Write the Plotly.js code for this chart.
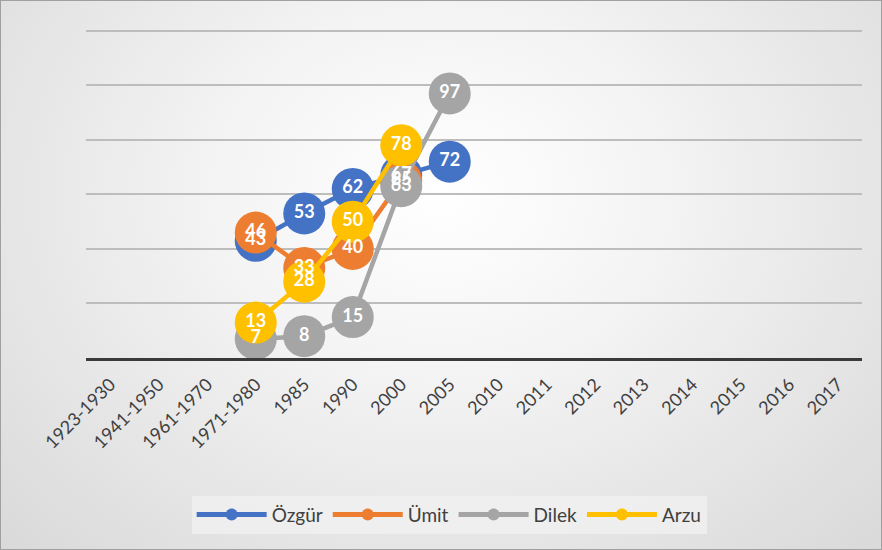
<!DOCTYPE html>
<html>
<head>
<meta charset="utf-8">
<script src="https://cdn.plot.ly/plotly-3.0.1.min.js"></script>
<style>
html,body{margin:0;padding:0;}
body{width:882px;height:550px;overflow:hidden;}
#wrap{position:absolute;left:0;top:0;width:880px;height:548px;border:1px solid #a0a0a0;
background:radial-gradient(ellipse at 50% 35%, #ffffff 0%, #f4f4f4 35%, #d9d9d9 100%);}
#chart{width:880px;height:548px;}
</style>
</head>
<body>
<div id="wrap"><div id="chart"></div></div>
<script>
const categories = ["1923-1930","1941-1950","1961-1970","1971-1980","1985","1990","2000","2005","2010","2011","2012","2013","2014","2015","2016","2017"];
const seriesNames = ["Özgür","Ümit","Dilek","Arzu"];
const ozgur = [null,null,null,43,53,62,67,72,null,null,null,null,null,null,null,null];
const umit  = [null,null,null,46,33,40,65,null,null,null,null,null,null,null,null,null];
const dilek = [null,null,null,7,8,15,63,97,null,null,null,null,null,null,null,null];
const arzu  = [null,null,null,13,28,50,78,null,null,null,null,null,null,null,null,null];
const colors = ["#4472C4","#ED7D31","#A5A5A5","#FFC000"];
const allSeries = [ozgur, umit, dilek, arzu];

const traces = [];
allSeries.forEach((vals, i) => {
  traces.push({
    type: "scatter", mode: "lines+markers", name: seriesNames[i],
    x: categories, y: vals, connectgaps: false,
    line: {color: colors[i], width: 4.5},
    marker: {color: colors[i], size: 42, symbol: "circle"},
    hoverinfo: "skip"
  });
});
allSeries.forEach((vals, i) => {
  traces.push({
    type: "scatter", mode: "text", showlegend: false,
    x: categories, y: vals,
    text: vals.map(v => v === null ? "" : String(v)),
    textposition: "middle center",
    textfont: {family: "Lato, 'DejaVu Sans', sans-serif", size: 18, color: "#ffffff", weight: "bold"},
    hoverinfo: "skip"
  });
});

const layout = {
  width: 880, height: 548,
  paper_bgcolor: "rgba(0,0,0,0)", plot_bgcolor: "rgba(0,0,0,0)",
  margin: {l: 85, r: 19, t: 27, b: 191},
  font: {family: "Lato, 'Liberation Sans', sans-serif", color: "#404040"},
  xaxis: {
    type: "category", categoryorder: "array", categoryarray: categories,
    tickangle: -45, tickfont: {size: 18, color: "#404040"},
    showgrid: false, showline: true, linecolor: "#3a3a3a", linewidth: 3,
    ticks: "outside", ticklen: 6, tickcolor: "rgba(0,0,0,0)",
    zeroline: false, range: [-0.5, 15.5], fixedrange: true
  },
  yaxis: {
    range: [0, 121], tickvals: [20, 40, 60, 80, 100, 120], showticklabels: false,
    showgrid: true, gridcolor: "#bdbdbd", gridwidth: 2,
    zeroline: false, showline: false, fixedrange: true
  },
  showlegend: true,
  legend: {
    orientation: "h", x: 0.468, xanchor: "center", y: -0.475, yanchor: "middle",
    bgcolor: "rgba(240,240,240,0.85)", font: {size: 19, color: "#404040"},
    itemsizing: "constant", itemwidth: 70, traceorder: "normal"
  }
};

Plotly.newPlot("chart", traces, layout, {displayModeBar: false, staticPlot: true});
</script>
</body>
</html>
